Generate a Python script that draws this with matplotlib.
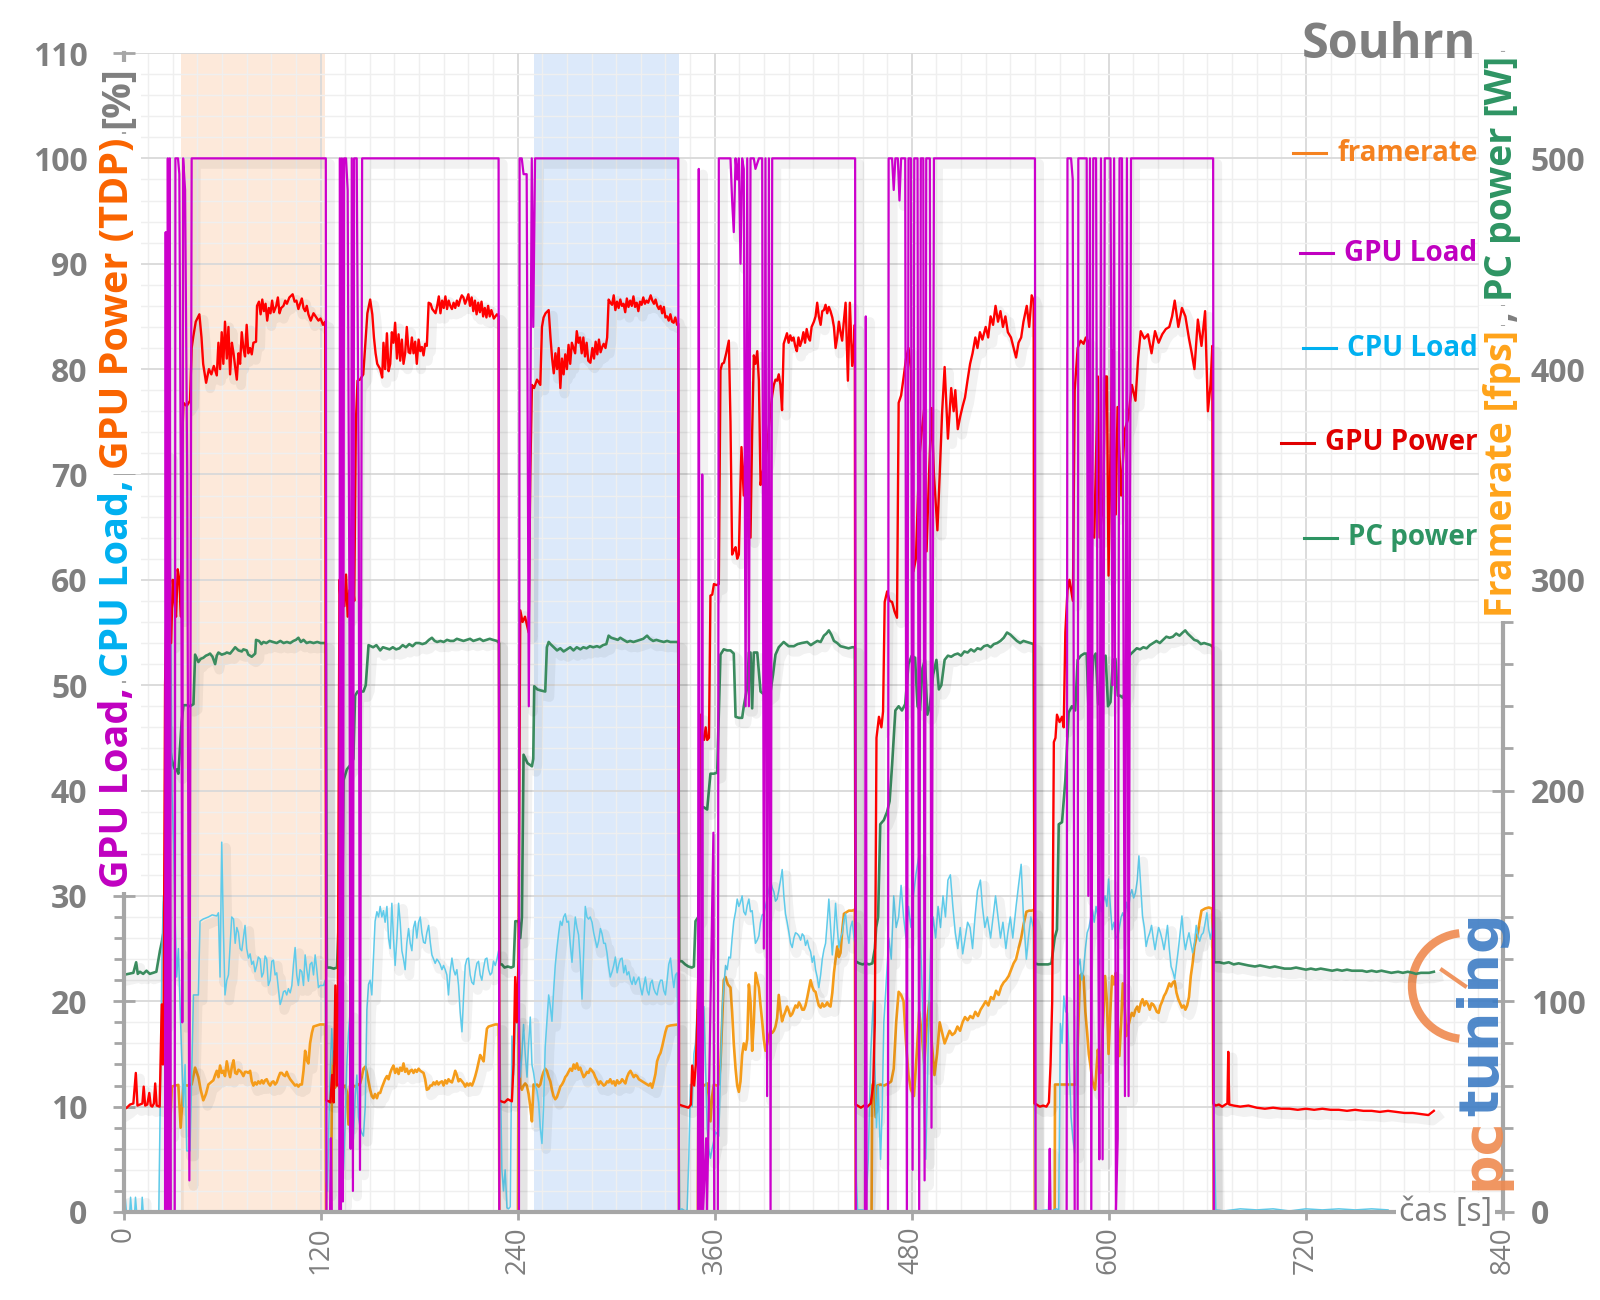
import matplotlib
matplotlib.use('Agg')
import matplotlib.pyplot as plt
import matplotlib.patheffects as pe
from matplotlib.ticker import MultipleLocator
from matplotlib.lines import Line2D
from matplotlib.patches import Arc

plt.rcParams['font.family'] = ['Open Sans', 'DejaVu Sans']

# ---- data (time in s) ----
# GPU Power [% TDP]
gpu_power_pts = [
    (0, 9.7), (2, 9.9), (4, 10.2), (6, 10.3), (7.5, 13.2), (8.5, 10.1), (10, 10.2), (11.5, 10.3), (12.3, 11.9),
    (13.2, 10.1), (14.5, 10.2), (15.7, 11.3), (16.6, 10.1), (17.5, 10.0), (18.5, 10.3), (19.3, 12.2), (20.2, 10.1),
    (22, 10.0), (23.3, 19.7), (24, 14), (24.5, 20), (25.3, 50), (26, 56), (27, 59.5), (28, 57), (29, 54), (30, 60),
    (31, 58), (32, 56.5), (33, 61), (34, 60), (35, 56.5), (35.5, 72), (36.5, 76.8), (38.5, 76.5), (40.5, 77),
    (41.5, 82), (42.5, 83.1), (44, 84.5), (46.2, 85.2), (47.5, 83), (48.5, 80.5), (50.3, 78.7), (52, 80),
    (53.5, 79.5), (55, 80.3), (56.8, 79.4), (57.8, 82.5), (58.8, 80), (59.8, 83.5), (60.8, 80.5), (61.8, 84.5),
    (62.9, 81), (63.9, 84), (64.9, 79.5), (66, 82.5), (67, 81.5), (68, 80.2), (69, 79), (70, 81.5), (71, 80.5),
    (72, 83.5), (73, 82), (74, 81.2), (75, 84.2), (76, 81.5), (77.1, 82), (78.1, 81.4), (79.1, 82.5), (80.7, 82.6),
    (81.3, 86), (82.5, 86.4), (83.5, 85.2), (84.5, 86.6), (85.5, 85.5), (86.5, 86.2), (87.5, 84.6), (88.5, 85.8),
    (89.5, 85.3), (90.5, 86.5), (91.5, 85.4), (93, 86), (94, 86.8), (95, 85.3), (96, 85.8), (97.4, 86), (98.5, 86.5),
    (99.5, 86.2), (101, 86.8), (103, 87.1), (104.2, 86.4), (105.3, 86.5), (106.5, 85.7), (107.5, 86.2),
    (108.6, 86.7), (109.6, 85.8), (110.6, 85.5), (111.6, 86), (112.6, 85.2), (114, 84.6), (115.7, 85.3), (117, 85),
    (118.7, 84.6), (120, 84.8), (121.5, 84.2), (122.8, 84.5), (123.4, 10.6), (125, 10.5), (126, 10.4), (127, 13),
    (128, 10.4), (129, 21.5), (130, 12), (130.5, 19.4), (131.5, 60), (132.5, 56.8), (133.5, 59), (134.5, 57.5),
    (135.5, 60.5), (136.5, 56.5), (137.5, 59), (138.5, 57), (139.5, 60), (140.5, 58), (141.5, 75), (142.5, 78.9),
    (144, 79), (146, 79.5), (147.5, 83), (148.5, 85.3), (150.2, 86.6), (151.5, 85.2), (152.5, 83), (153.5, 81.5),
    (154.5, 80.5), (156.3, 80), (157.5, 79.2), (158.3, 82.5), (159.3, 80), (160.4, 83.4), (161.4, 79.8),
    (162.4, 80.5), (163.4, 83.5), (164.4, 82.5), (165.4, 84.4), (166.5, 81), (167.5, 83.3), (168.5, 80.8),
    (169.5, 82.8), (170.5, 80.5), (171.5, 81.5), (172.5, 84), (173.6, 81.6), (174.6, 81.5), (175.6, 83),
    (176.6, 81.5), (177.6, 82.6), (178.6, 80.5), (179.7, 82.8), (180.7, 81.7), (181.7, 82.1), (182.7, 81.3),
    (183.7, 82.4), (184.7, 82.2), (185.8, 86.3), (187, 86.2), (188, 85.7), (189, 85.5), (190, 85.3), (191, 86),
    (192, 86.9), (193, 85.3), (194, 86.5), (195, 85.8), (196, 86.9), (197, 85.7), (198, 86.5), (199, 86),
    (200, 85.7), (201, 86.3), (202, 85.8), (203, 86.5), (204, 86), (205, 86.6), (206, 87), (207, 86.8), (208, 86.2),
    (209, 86.6), (210, 87.1), (211, 86), (212, 86.8), (213, 85.5), (214, 86.5), (215, 85.2), (216, 86.3),
    (217, 85.4), (218, 86.4), (219, 85), (220, 85.8), (221, 84.9), (222, 86), (223, 85), (224, 85.6), (225.5, 84.8),
    (227.4, 85.2), (228.4, 85), (228.9, 10.6), (230, 10.5), (232, 10.4), (234, 10.7), (236.5, 10.5), (237.5, 14),
    (238.5, 22.3), (239.5, 18), (240.5, 24), (241.6, 57.1), (243, 56), (244.5, 56.5), (246.7, 55), (247.7, 70),
    (248.7, 78.5), (250, 78.2), (251.8, 79), (253.8, 78.5), (254.8, 84), (255.8, 84.9), (257, 85.3), (258.9, 85.6),
    (260, 83), (261, 81), (262, 79.6), (263, 81.5), (264, 80), (265, 82), (266, 78.2), (267, 81), (268, 79.5),
    (269, 81.4), (270, 80), (271, 82.3), (272, 80.5), (273, 82.5), (274, 82), (275, 81.5), (276, 83.6),
    (277, 82.5), (278, 83), (279, 81.5), (280, 83), (281, 81.2), (282, 82.5), (283, 80.8), (284.3, 80.6),
    (285.5, 82), (286.5, 81), (287.5, 82.6), (288.5, 81.4), (289.5, 82.8), (290.5, 81.6), (291.5, 82.1),
    (292.4, 82.4), (293.5, 82), (294.5, 83), (295.4, 86.6), (296.5, 86.3), (297.5, 86.1), (298.5, 87),
    (299.5, 85.6), (300.5, 86.4), (301.5, 85.8), (302.5, 86.6), (303.5, 86), (304.5, 86.2), (305.5, 85.4),
    (306.5, 86.7), (307.5, 85.9), (308.5, 86.5), (309.5, 86), (310.5, 86.9), (311.5, 85.9), (312.5, 86.3),
    (313.5, 85.5), (314.5, 86.4), (315.5, 86.1), (316.5, 86.8), (317.5, 86.2), (318.5, 86.5), (319.5, 86.3),
    (321, 87), (322, 86.5), (323, 86.2), (324, 86.6), (325, 86), (326, 85.7), (327, 86), (328, 85.3), (329, 85.9),
    (330, 84.9), (331, 85), (332, 84.6), (333, 85.2), (334, 84.5), (335, 84.4), (336, 84.9), (337.1, 84.2),
    (337.8, 84.3), (338.3, 10.2), (340, 10.1), (342, 10), (344, 9.9), (345.5, 10.2), (346.3, 13.9), (347.5, 12),
    (348.5, 14), (349.3, 17.8), (350.3, 25), (351.3, 47.2), (352.5, 45), (353.5, 44.8), (354.5, 46), (355.4, 44.8),
    (356.5, 45), (357.4, 58.5), (358.5, 58.6), (359.5, 59.6), (361, 59.5), (362.5, 59.6), (363.5, 79.9),
    (364.5, 80.5), (365.6, 80.6), (367, 81.5), (368.6, 82.7), (369.6, 75), (370.6, 62.4), (371.6, 62.8),
    (372.7, 63.1), (373.7, 62), (374.7, 62.4), (375.5, 68), (376.3, 72.6), (377.7, 68), (378.8, 73), (379.8, 78.9),
    (380.8, 72), (381.8, 64), (382.8, 74), (383.8, 81.3), (384.8, 80.5), (385.9, 81.7), (386.9, 78.9), (387.9, 69),
    (388.9, 70), (389.9, 70.8), (391, 71.5), (392, 72.9), (393, 74.5), (394, 76.1), (395, 77.5), (396, 78.5),
    (397, 79), (398, 78.9), (399, 79.5), (400, 78.5), (401, 76.1), (402, 82.4), (403, 82.9), (404, 83.4),
    (405, 82.5), (406, 83.2), (407, 82.7), (408, 83), (409, 82.2), (410, 81.7), (411, 83), (412, 82.2), (413, 82.7),
    (414, 83.5), (415, 82.5), (416, 83.8), (417, 83), (418, 82.7), (419, 84), (420.4, 84.5), (421.4, 85),
    (422.4, 86.3), (423.4, 85), (424.5, 84.2), (425.5, 85.5), (426.5, 85.6), (427.5, 86.1), (428.5, 85.3),
    (429.5, 85.9), (430.5, 85.5), (431.6, 84.9), (432.6, 84), (433.6, 82), (434.6, 83), (435.6, 84.5),
    (436.6, 83.5), (437.6, 82.7), (438.6, 84.5), (439.7, 86.3), (441.1, 78.9), (442.3, 86.3), (443.7, 80.3),
    (444.8, 82.5), (445.3, 84.2), (445.8, 10.2), (447, 10.1), (449, 9.9), (451, 10.1), (453, 10), (455, 10.3),
    (456.5, 12), (457.5, 18), (458.5, 45), (460, 47), (461.5, 46), (462.5, 47.5), (463.5, 57.9), (465, 58.9),
    (466.5, 58), (468, 57.9), (469.5, 57), (471, 56.4), (472, 76.8), (473.5, 77.5), (475, 79.2), (476.5, 81),
    (478, 82), (479.5, 80), (481, 60.8), (482.5, 62), (484.5, 71.4), (486, 74), (487.6, 76.3), (489, 62.7),
    (490.5, 70), (492, 76.3), (493.5, 70), (495.6, 64.7), (497, 70), (498.5, 76), (500, 80.2), (502, 73.4),
    (504, 78.2), (505.5, 76), (506.5, 78), (508, 74.3), (509.5, 75.5), (511, 76.5), (512.4, 77.3), (514, 79),
    (515.5, 80.5), (517, 81.5), (518.7, 83), (520, 82), (521.5, 83.5), (523, 82.8), (525, 84), (526.5, 83),
    (528, 85), (529.5, 84.2), (531, 86), (532.5, 84.5), (534, 85.5), (535.5, 84), (537, 85), (538.5, 83.5),
    (540.4, 83), (542, 82), (543.5, 81.1), (545, 82.5), (546.6, 83), (548, 84.5), (550, 86), (551.5, 84), (553, 87),
    (554.2, 86.5), (554.7, 10.3), (556, 10.2), (558, 10), (560, 10.1), (562, 10), (563.5, 10.4), (564.5, 14),
    (565.5, 20), (566.5, 44.6), (567.5, 45), (568.4, 47.2), (570, 46.5), (571.5, 47), (572.5, 46), (573.5, 55),
    (574.8, 59), (576, 60), (578.1, 58), (579.2, 78), (581, 82), (582.8, 82.7), (584.6, 82.4), (586, 83),
    (587.9, 82.5), (589, 64.4), (591.1, 64), (593.3, 79.3), (594.4, 64), (596.6, 67.6), (597.7, 79.3),
    (598.8, 79.3), (599.8, 60.4), (602, 81.8), (604.2, 66.2), (605.3, 76.4), (607.5, 68), (609.6, 74.2),
    (611.8, 75.3), (614, 78.5), (616.2, 77), (617.8, 81), (619.4, 83.6), (621.6, 82.9), (623.8, 83.3), (626, 81.5),
    (628.1, 83.6), (630.3, 82.5), (632.5, 83.3), (634.7, 83.8), (636.8, 84), (638.5, 85), (640.1, 86.5),
    (642.3, 84), (644.5, 85.8), (646.6, 85), (648.8, 82.9), (650.5, 81.5), (652.1, 80), (654.2, 84.7),
    (656.4, 82.2), (658.6, 85.5), (660.3, 76), (661.9, 78.5), (663, 82.2), (663.6, 10.3), (665, 10.1), (667, 10.2),
    (669, 10), (671, 10.2), (672.2, 10.3), (672.7, 15.2), (673.3, 10.2), (676, 10.1), (680, 10.0), (685, 10.1),
    (690, 9.9), (695, 9.8), (700, 9.9), (705, 9.8), (710, 9.8), (715, 9.7), (720, 9.8), (725, 9.7), (730, 9.8),
    (735, 9.7), (740, 9.7), (745, 9.6), (750, 9.7), (755, 9.6), (760, 9.6), (765, 9.5), (770, 9.6), (775, 9.5),
    (780, 9.4), (785, 9.4), (790, 9.3), (794.6, 9.2), (797.9, 9.6),
]

# GPU Load [%]
gpu_load_pts = [
    (0, 0), (25.3, 0), (25.7, 93), (26.1, 0), (26.7, 0), (27.0, 100), (27.8, 0), (28.2, 100), (28.8, 0), (31.2, 0),
    (31.6, 100), (33.2, 100), (34.0, 98.5), (35.2, 60), (35.8, 18), (36.3, 100), (37.5, 97), (38.8, 70), (40.1, 3),
    (41.5, 100), (123.2, 100), (123.6, 0), (125.8, 0), (126.3, 7), (126.8, 0), (131.4, 0), (131.8, 100), (132.4, 0),
    (133.0, 100), (133.6, 1), (134.3, 100), (135.5, 100), (136.5, 97), (137.5, 60), (138.3, 6), (139.0, 100),
    (139.7, 2), (140.4, 100), (142.0, 100), (143.2, 70), (144.0, 4), (145.3, 100), (228.4, 100), (228.8, 0),
    (240.8, 0), (241.2, 100), (242.5, 100), (243.6, 98.5), (245.5, 98.5), (246.8, 48), (248.6, 100), (249.5, 84),
    (250.6, 100), (337.8, 100), (338.2, 0), (349.8, 0), (350.3, 99), (350.9, 0), (352.0, 0), (352.4, 70),
    (352.9, 0), (354.8, 7), (355.3, 0), (359.2, 36), (359.7, 0), (361.9, 0), (362.5, 100), (369.6, 100),
    (370.6, 96), (371.6, 93), (372.7, 100), (373.7, 98), (374.7, 100), (375.7, 90), (376.7, 100), (377.7, 99),
    (378.8, 48), (379.8, 100), (380.8, 48), (381.8, 100), (383.8, 100), (384.8, 99), (386.9, 100), (388.9, 100),
    (389.9, 25), (390.9, 100), (391.9, 11), (393.0, 100), (394.0, 0), (395.0, 100), (445.5, 100), (445.9, 0),
    (451.5, 0), (452.0, 85), (452.5, 0), (465.5, 0), (465.9, 100), (468, 100), (469, 97), (470, 100),
    (471.5, 100), (472.5, 96), (473.5, 100), (476, 100), (477, 0), (478, 100), (479.5, 100), (480.5, 4),
    (481.5, 100), (483.5, 100), (484.5, 0), (485.5, 100), (487, 100), (487.8, 3), (488.8, 100), (491, 100),
    (492, 8), (493.5, 100), (555.0, 100), (555.4, 0), (563.5, 0), (564.0, 6), (564.5, 0), (574.3, 0),
    (574.8, 100), (577.0, 100), (578.0, 98), (579.2, 0), (581.0, 0), (581.4, 100), (586.5, 100), (587.5, 30),
    (588.5, 100), (589.3, 0), (590.5, 100), (592.2, 100), (593.5, 30), (594.2, 5), (595.2, 100), (596.2, 5),
    (597.5, 100), (601, 100), (602.2, 50), (603.2, 100), (604.3, 0), (605.4, 7), (606.5, 100), (608.0, 100),
    (609.8, 11), (611.0, 100), (612.0, 11), (613.5, 100), (663.5, 100), (663.9, 0), (798, 0),
]

# CPU Load [%]
cpu_load_pts = [
    (0, 0), (1, 1.4), (1.8, 0), (3.8, 0), (4.3, 1.4), (5, 0), (6.8, 0), (7.3, 1.4), (8, 0), (11, 0), (11.4, 1.4),
    (12, 0), (21.5, 0), (22.5, 12), (23.5, 25), (24.3, 30), (25, 18), (26, 45), (27.5, 72), (28.5, 64),
    (29.5, 40), (30.5, 35), (31.4, 28), (32.4, 22.3), (33.4, 25), (34.4, 20), (35.4, 15), (36.5, 10), (37.5, 14),
    (38.5, 5.8), (40.5, 5.8), (41.5, 13), (42.6, 20.6), (45.6, 20.6), (46.6, 27.6), (48.5, 27.8), (51.7, 28),
    (54, 28.2), (56.8, 28.1), (57.8, 28.4), (58.8, 22.3), (59.8, 35.1), (60.8, 27), (61.8, 20.6), (62.9, 22),
    (63.9, 22.5), (65.9, 28), (67, 27.8), (68, 25.5), (69, 27), (70, 26.5), (71, 25), (72, 24.8), (73, 26),
    (74, 27.2), (75, 25), (76.1, 24.1), (77.1, 24.5), (78.1, 23.5), (79.1, 23.8), (80.1, 22.8), (81.1, 23.4),
    (82.1, 24.2), (83.2, 24), (84.2, 22.3), (85.2, 22.7), (86.2, 24.3), (87.2, 24), (88.2, 21.5), (89.3, 22),
    (90.3, 23.8), (91.3, 23.9), (92.3, 22.5), (93.3, 22.7), (94.3, 21.2), (95.4, 19.7), (96.4, 20.2),
    (97.4, 20.9), (98.4, 21), (99.4, 20.6), (100.4, 21.2), (101.5, 20.8), (102.5, 21.5), (103.5, 23.5),
    (104.5, 25.1), (105.5, 22.5), (106.5, 21.5), (107.5, 23), (108.6, 22.8), (109.6, 21.5), (110.6, 24.4),
    (111.6, 23), (112.6, 21.9), (113.6, 23.5), (114.7, 23.7), (115.7, 22.5), (116.7, 24.4), (117.7, 23),
    (118.7, 21.3), (119.7, 21.5), (121.8, 21.5), (122.8, 22), (123.4, 3), (124.2, 2), (125, 8), (125.8, 13),
    (126.8, 17.4), (127.8, 14), (128.9, 15.6), (129.9, 12), (131, 22), (132, 17.4), (133, 10), (134, 4),
    (135, 8.6), (136, 14), (137, 17), (138, 19), (139, 9), (140, 6.9), (141.1, 11), (142.1, 13), (143.1, 9),
    (144.1, 8), (145.1, 7.5), (146.1, 7.2), (147.2, 10), (148.2, 19.2), (149.2, 21.6), (150.2, 22), (151.2, 20.6),
    (152.2, 24), (153.2, 27.6), (154.3, 28.5), (155.3, 28), (156.3, 29), (157.3, 28), (158.3, 28.6), (159.3, 27.5),
    (160.4, 29), (161.4, 26), (162.4, 25), (163.4, 29.3), (164.4, 26), (165.4, 23.4), (166.5, 26), (167.5, 29.3),
    (168.5, 27.5), (169.5, 24.8), (170.5, 24), (171.5, 23), (172.5, 25.5), (173.6, 26.9), (174.6, 25.5),
    (175.6, 24.8), (176.6, 27), (177.6, 27.6), (178.6, 26), (179.7, 27.5), (180.7, 28), (181.7, 26.5),
    (182.7, 25.6), (183.7, 25.5), (184.7, 26.5), (185.8, 27.2), (186.8, 25.6), (187.8, 24.4), (188.8, 24),
    (189.8, 23.6), (190.8, 24), (191.8, 23.8), (192.8, 23.5), (193.9, 23), (194.9, 23.4), (195.9, 23),
    (196.9, 22.5), (197.9, 20.6), (198.9, 22.8), (200, 24.1), (201, 23), (202, 22.5), (203, 23), (204, 21.5),
    (205, 19), (206.1, 17.1), (207.1, 20.5), (208.1, 23.4), (209.1, 24), (210.1, 24.1), (211.1, 22.5),
    (212.1, 21.8), (213.2, 21.6), (214.2, 22.8), (215.2, 23.6), (216.2, 23.8), (217.2, 22.5), (218.2, 22),
    (219.3, 23.2), (220.3, 24), (221.3, 24.1), (222.3, 23), (223.3, 22.5), (224.3, 22.7), (225.3, 23.8),
    (226.4, 23.4), (227.4, 24), (228.4, 24.8), (229.4, 14), (230.4, 4), (231.4, 2), (232.4, 4), (233.5, 0.4),
    (234.5, 0.3), (235.5, 0.5), (236.5, 16.7), (237.5, 13), (238.5, 18), (239.6, 19.9), (240.6, 17),
    (241.6, 12.8), (242.6, 15), (243.6, 17.8), (244.6, 15), (245.7, 12.8), (246.7, 16), (247.7, 18.5),
    (248.7, 14), (249.7, 13.2), (250.8, 12), (251.8, 11.5), (252.8, 10.4), (253.8, 8), (254.8, 6.5), (255.8, 10),
    (256.8, 15.7), (257.8, 18), (258.9, 20.6), (259.9, 19.5), (260.9, 18.1), (261.9, 21), (262.9, 23.4),
    (263.9, 25), (265, 26.5), (266, 27.6), (267, 27.2), (268, 28), (269, 28.3), (270, 27.5), (271, 27.6),
    (272, 25.5), (273.1, 23.7), (274.1, 26), (275.1, 28), (276.1, 27), (277.1, 26.3), (278.1, 24), (279.2, 20.2),
    (280.2, 24.5), (281.2, 29), (282.2, 28), (283.2, 27.8), (284.2, 28), (285.3, 27.5), (286.3, 26.5),
    (287.3, 25.8), (288.3, 25.1), (289.3, 25.7), (290.4, 26.9), (291.4, 26.4), (292.4, 25.5), (293.4, 25.5),
    (294.4, 24.6), (295.4, 23.3), (296.4, 22.3), (297.5, 22.8), (298.5, 23.4), (299.5, 24.2), (300.6, 22.7),
    (301.6, 23.5), (302.6, 24), (303.6, 24.1), (304.6, 22.7), (305.6, 23.4), (306.6, 22.5), (307.7, 22.8),
    (308.7, 22), (309.7, 21.6), (310.7, 22.3), (311.7, 21.6), (312.8, 22), (313.8, 22.3), (314.8, 21.3),
    (315.8, 20.6), (316.8, 21.5), (317.8, 22.3), (318.9, 21), (319.9, 20.6), (320.9, 21.7), (321.9, 22),
    (322.9, 21.2), (323.9, 20.8), (324.9, 20.6), (326, 21.5), (327, 22), (328, 22), (329, 21), (330, 20.6),
    (331, 22), (332, 23.5), (333.1, 24.1), (334.1, 22.5), (335.1, 21.3), (336.1, 22.5), (337.1, 22.7),
    (338.2, 10), (338.7, 0.2), (340, 0.3), (342, 0.1), (343.2, 0.2), (344.2, 5), (345.2, 12.1), (346.3, 10),
    (347.3, 15), (348.3, 16), (349.3, 19.2), (350.3, 17), (351.3, 18.5), (352.3, 16), (353.4, 19.5), (354.4, 14),
    (355.4, 8), (356.4, 6), (357.4, 5.1), (358.4, 6), (359.5, 6.8), (360.5, 7.6), (361.5, 7.4), (362.5, 7.2),
    (363.5, 13), (364.5, 19.2), (365.6, 21.5), (366.6, 23.4), (367.6, 23), (368.6, 24.2), (369.6, 24.1),
    (370.6, 26), (371.6, 27.6), (372.7, 28.5), (373.7, 29.7), (374.7, 29), (375.7, 29.4), (376.7, 30),
    (377.7, 28.5), (378.8, 28.2), (379.8, 29.1), (380.8, 29.7), (381.8, 28.5), (382.8, 28.6), (383.8, 27),
    (384.8, 25.5), (385.9, 25.8), (386.9, 26.2), (387.9, 27.5), (388.9, 28.2), (389.9, 28.3), (390.9, 29),
    (391.9, 29.7), (392.9, 30.5), (394, 31.4), (395, 30.8), (396, 30.4), (397, 29.5), (398, 29.7), (399, 30.5),
    (400.1, 31.5), (401.1, 32.5), (402.1, 30), (403.1, 28.3), (404.1, 27.5), (405.2, 26.5), (406.2, 25.5),
    (407.2, 25.1), (408.2, 26), (409.2, 26.5), (410.3, 26.4), (411.3, 26.2), (412.3, 25.8), (413.3, 26.4),
    (414.3, 26.2), (415.3, 25.3), (416.4, 25.8), (417.4, 25.1), (418.4, 24.7), (419.4, 23.7), (420.4, 24.3),
    (421.4, 23), (422.4, 22.3), (423.4, 21.3), (424.5, 22.5), (425.5, 24), (426.5, 24.9), (427.5, 25.5),
    (428.5, 27.5), (429.5, 29.7), (430.6, 27), (431.6, 24.4), (432.6, 26.5), (433.6, 29.3), (434.6, 27),
    (435.6, 25.1), (436.6, 26), (437.7, 26.5), (438.7, 27.7), (439.7, 28.3), (440.7, 26.5), (441.7, 25.5),
    (442.7, 27), (443.8, 27.6), (444.8, 26), (445.8, 25.1), (446.3, 3), (447, 0.2), (450, 0.2), (452, 0.1),
    (453.5, 5), (455, 15), (456.5, 20), (457.5, 14), (458.5, 8), (459.5, 12), (461, 5), (462, 10), (463, 18),
    (464.5, 22), (466, 26), (467.5, 24), (469, 30), (470.5, 27), (472, 28), (473.5, 31), (475, 28), (476.5, 26),
    (478, 29), (479.5, 27), (481, 30), (482.5, 32), (484.5, 34), (485.5, 25), (486.5, 20), (487.6, 9),
    (488.5, 5), (489.5, 12), (490.5, 20), (491.5, 25), (493, 28), (494.5, 26), (496, 29), (497.5, 27), (499, 30),
    (500.5, 28), (502, 31.5), (503.5, 32), (505, 29), (506.5, 26.5), (508, 25), (509.5, 27), (511, 24.5),
    (512.5, 26), (514, 27.5), (515.5, 27), (517, 25), (518.5, 28), (520, 30.5), (521.8, 31.5), (523, 29),
    (524.5, 27), (526, 28), (528, 26), (529.5, 28), (531, 30), (532.5, 28), (534, 26), (535.5, 27.5),
    (537.3, 25), (538.5, 26.5), (540, 28), (541.5, 26), (543.5, 29), (545, 31), (546.6, 33), (548, 28),
    (549.8, 24), (551, 26), (552.5, 28), (554, 27), (554.8, 10), (555.3, 0.2), (558, 0.1), (562, 0.2),
    (565, 0.1), (568, 0.3), (569.5, 0.2), (570.5, 17.9), (571.5, 16), (572.6, 20.5), (573.7, 19), (574.8, 18.9),
    (575.9, 14), (577, 9), (578.1, 7), (579.2, 5.6), (580.2, 12), (581.3, 23.3), (582.4, 24), (583.5, 22),
    (584.6, 23), (585.7, 25), (586.8, 26.5), (587.9, 27), (589, 28), (590, 28.7), (591.1, 27.5), (592.2, 29),
    (593.3, 28.1), (594.4, 29.5), (595.5, 28.5), (596.6, 29.4), (597.7, 30), (598.8, 29), (599.8, 31.6),
    (600.9, 29), (602, 26.8), (603.1, 27.5), (604.2, 26.2), (605.3, 25.9), (606.4, 27), (607.5, 28),
    (608.5, 28.4), (609.6, 27.6), (610.7, 29.4), (611.8, 28.5), (612.9, 30), (614, 30.6), (615.1, 29.8),
    (616.2, 30.3), (617.3, 31.5), (618.3, 33.8), (619.4, 31), (620.5, 28.1), (621.6, 27), (622.7, 25.2),
    (623.8, 26), (624.9, 26.5), (626, 27.2), (627, 26), (628.1, 24.9), (629.2, 26), (630.3, 27), (631.4, 26.5),
    (632.5, 25.8), (633.6, 24.9), (634.7, 26), (635.7, 27.2), (636.8, 25), (637.9, 23.3), (639, 22.8),
    (640.1, 22.1), (641.2, 23.5), (642.3, 24.9), (643.4, 26.5), (644.5, 28.1), (645.6, 26), (646.6, 24.9),
    (647.7, 25.8), (648.8, 26.5), (649.9, 25.5), (651, 24.6), (652.1, 25.5), (653.2, 27.2), (654.2, 26.2),
    (655.3, 25.7), (656.4, 26.3), (657.5, 26.5), (658.6, 27.4), (659.7, 28.4), (660.8, 26.8), (661.9, 25.9),
    (663, 27), (663.4, 28), (664.2, 8), (665.1, 0.2), (670, 0.1), (680, 0.3), (690, 0.2), (700, 0.3),
    (710, 0.1), (720, 0.3), (730, 0.2), (740, 0.3), (750, 0.2), (760, 0.3), (770, 0.2),
]

# framerate [fps]
fps_pts = [
    (0, 0), (26.0, 0), (26.3, 60.5), (27.3, 59), (28.3, 38), (29.4, 59.5), (31.4, 60), (33.4, 60.3), (34.8, 40),
    (36.5, 60.2), (39, 60), (41.5, 60.5), (43.6, 68.5), (45.6, 64), (47, 58), (48.6, 53), (50.2, 56),
    (51.7, 60.5), (53.2, 61.5), (54.7, 62.5), (55.8, 65), (56.8, 67), (57.8, 64), (58.8, 69.5), (59.8, 66),
    (60.8, 67), (61.8, 64.5), (62.9, 71.5), (63.9, 67), (64.9, 64), (66, 69), (67, 72), (68, 66), (69, 65.5),
    (70, 67.5), (71, 67), (72, 66), (73, 64.5), (74, 66.5), (75, 66.5), (76, 66), (77.1, 67), (78.1, 62),
    (79.1, 60), (80.1, 61.5), (81.1, 60.5), (82.1, 62), (83.2, 61), (84.2, 62.5), (85.2, 61), (86.2, 62.5),
    (87.2, 63), (88.3, 61), (89.3, 60), (90.3, 61.5), (91.3, 62), (92.3, 60.5), (93.3, 61.5), (94.4, 64),
    (95.4, 66), (96.4, 66), (97.4, 65), (98.4, 64.5), (99.4, 66.5), (100.4, 64.5), (101.5, 63), (102.5, 62),
    (103.5, 61), (104.5, 60), (105.5, 60.5), (106.5, 59.5), (107.5, 60.5), (108.6, 60.5), (109.6, 67),
    (110.6, 76.5), (111.6, 72), (112.6, 70.5), (113.6, 80), (114.7, 85), (115.7, 88), (117.7, 88.5),
    (119.7, 89), (122.8, 89), (123.3, 0), (126.4, 0), (126.9, 60), (127.8, 76), (128.8, 59), (129.8, 61),
    (131, 60), (132, 58), (133, 60), (134, 59.5), (135, 60), (136, 57), (137, 41.5), (138, 60), (139, 60.5),
    (140, 60), (141.1, 59.5), (142.1, 60), (143.1, 60.5), (144.1, 61), (145.1, 64), (146.1, 68), (147.2, 69),
    (148.2, 66), (149.2, 62), (150.2, 58), (151.2, 55), (152.2, 54), (153.2, 56), (154.3, 54), (155.3, 56.5),
    (156.3, 56.5), (157.3, 59), (158.3, 61), (159.3, 63), (160.4, 64.5), (161.4, 63), (162.4, 66), (163.4, 68),
    (164.4, 69.5), (165.4, 66), (166.5, 68), (167.5, 65.5), (168.5, 68.5), (169.5, 67), (170.5, 70.5),
    (171.5, 66.5), (172.5, 68), (173.6, 65.5), (174.6, 67), (175.6, 67.5), (176.6, 66), (177.6, 67.5),
    (178.6, 66.5), (179.7, 68), (180.7, 67), (181.7, 66.5), (182.7, 66), (183.7, 63), (184.7, 58), (185.8, 58.5),
    (186.8, 60), (187.8, 60), (188.8, 61.5), (189.8, 60.5), (190.8, 62), (191.8, 60.5), (192.8, 61.5),
    (193.9, 62), (194.9, 60), (195.9, 62.5), (196.9, 61), (197.9, 63), (198.9, 62), (200, 61.5), (201, 64),
    (202, 67), (203, 65), (204, 62), (205, 63), (206.1, 62), (207.1, 61), (208.1, 59.5), (209.1, 61), (210.1, 60),
    (211.1, 61), (212.2, 60), (213.2, 62), (214.2, 64.5), (215.2, 67.5), (216.2, 71), (217.2, 74.5), (218.2, 73),
    (219.3, 71.5), (220.3, 80), (221.3, 87), (222.3, 88), (224.4, 88.5), (226.4, 89), (228.4, 89), (228.9, 0),
    (240.2, 0), (240.6, 92.5), (241.6, 60), (242.6, 58), (243.6, 60), (244.6, 61), (245.6, 60), (246.7, 56),
    (247.7, 50), (248.7, 43), (249.7, 60.5), (250.8, 60), (251.8, 60.5), (252.8, 59.5), (253.8, 60.5),
    (254.8, 64), (255.8, 66.5), (256.8, 68), (257.8, 67), (258.9, 64), (259.9, 62), (260.9, 58), (261.9, 55),
    (262.9, 53.5), (263.9, 54.5), (265, 57), (266, 59.5), (267, 60.5), (268, 62), (269, 64), (270, 65),
    (271, 66.5), (272, 68), (273.1, 67), (274.1, 70), (275.1, 68), (276.1, 70.5), (277.1, 67.5), (278.1, 68.5),
    (279.2, 66), (280.2, 64), (281.2, 65), (282.2, 66.5), (283.2, 66), (284.2, 68), (285.3, 67), (286.3, 66),
    (287.3, 64), (288.3, 62.5), (289.3, 60.5), (290.4, 62), (291.4, 61), (292.4, 60), (293.4, 60.5), (294.4, 62),
    (295.4, 61.5), (296.4, 63), (297.5, 61), (298.5, 62), (299.5, 60), (300.6, 62.5), (301.6, 61), (302.6, 61.5),
    (303.6, 63), (304.6, 62), (305.6, 61), (306.6, 64), (307.7, 66), (308.7, 67), (309.7, 65.5), (310.7, 64),
    (311.7, 65), (312.7, 64.5), (313.8, 63), (314.8, 62.5), (315.8, 62), (316.8, 61.5), (317.8, 61),
    (318.9, 60.5), (319.9, 60), (320.9, 61), (321.9, 59), (322.9, 62), (323.9, 65.5), (324.9, 71.5), (326, 74),
    (327, 75.5), (328, 78.5), (329, 82), (330, 85.5), (331, 88), (333, 88.5), (336.1, 88.8), (337.8, 89),
    (338.2, 0), (349.7, 0), (350.1, 60), (351.5, 60.5), (353.5, 60), (355.4, 61), (356.4, 55), (357.4, 43),
    (358.4, 55), (359.5, 60.5), (361, 60), (362.5, 60.5), (363.5, 70), (364.5, 90), (365.5, 110), (366.6, 111.5),
    (368, 108), (369.6, 106.5), (370.6, 95), (371.6, 80), (372.7, 68), (373.7, 60), (374.7, 57), (375.7, 62),
    (376.7, 74.5), (377.7, 80), (378.8, 77), (379.8, 82), (380.8, 108), (381.8, 100), (382.8, 76.5), (383.8, 90),
    (384.9, 113.5), (385.9, 110), (386.9, 106.5), (387.9, 98), (388.9, 90.5), (389.9, 82), (390.9, 76.5),
    (392, 80), (393, 83.5), (394, 86), (395, 85), (396, 86), (397, 88), (398, 92), (399, 103), (400, 96),
    (401, 90.5), (402, 93), (403, 95), (404.1, 97.5), (405.1, 95.5), (406.1, 93), (407.2, 94), (408.2, 96),
    (409.2, 98), (410.3, 97), (411.3, 99.5), (412.3, 98), (413.3, 96), (414.3, 96), (415.3, 98), (416.4, 102),
    (417.4, 106), (418.4, 110), (419.4, 107), (420.4, 105), (421.4, 104.5), (422.4, 101), (423.4, 98),
    (424.5, 97), (425.5, 99), (426.5, 97.5), (427.5, 98), (428.5, 99.5), (429.5, 98), (430.5, 97.5),
    (431.6, 104), (432.6, 113.5), (433.6, 120), (434.6, 126), (435.6, 121), (436.6, 123), (437.7, 134),
    (438.7, 141.5), (439.7, 142), (441.7, 143), (443.7, 143), (445.3, 143.5), (445.8, 0), (455.5, 0),
    (455.9, 60), (457, 62), (458, 45), (459, 60), (461, 60.5), (463, 60), (465.8, 61), (467.5, 62), (469, 68),
    (470.5, 90), (472, 104.5), (473.5, 103), (475, 100), (476.5, 80), (478, 65), (479.5, 58), (481.3, 55),
    (483, 75), (484.5, 95), (486, 85), (487.6, 70), (489, 88), (490.7, 100), (492.2, 80), (493.8, 65),
    (495.4, 75), (497, 90), (498.5, 85), (500, 80), (501.5, 83), (503, 86), (504.6, 84), (506.2, 85),
    (507.8, 88), (509.4, 86), (510.9, 90), (512.4, 92.5), (514, 91), (515.6, 93), (517.2, 92), (518.7, 95),
    (520.3, 93), (521.9, 96), (523.5, 98), (525, 100), (526.6, 98), (528.2, 102), (529.8, 101), (531.3, 105),
    (532.9, 103), (534.5, 107), (536, 109), (537.3, 110), (539, 112), (540.5, 115), (542, 118), (543.5, 120),
    (545, 125), (546.6, 130), (548.2, 137), (549.8, 142.5), (551.5, 143), (553, 143), (554.5, 143.5),
    (554.9, 0), (567.0, 0), (567.2, 60.5), (570, 60.5), (573, 60.5), (576, 60.5), (578, 60.5), (580.3, 60.5),
    (581.5, 90), (582.4, 112), (583.5, 113), (584.6, 111.5), (585.7, 95), (586.8, 85), (587.8, 75), (588.9, 69),
    (590, 62), (591.6, 58), (593.3, 77), (594.1, 70), (595, 66), (596.5, 90), (597.7, 112), (598.8, 100),
    (599.8, 75), (600.9, 95), (602, 112), (603.1, 108), (604.2, 113.5), (605.3, 90), (606.4, 74), (607.5, 90),
    (608.5, 108.5), (609.6, 98), (610.7, 83.5), (611.8, 88), (613, 92), (614, 94.5), (615.1, 93), (616.2, 96),
    (617.3, 97.5), (618.3, 95), (619.4, 99), (620.5, 101), (621.6, 98), (622.7, 100), (623.8, 98.5), (624.9, 96),
    (626, 99), (627, 98.5), (628.1, 97), (629.2, 95), (630.3, 94.5), (631.4, 98), (632.5, 100), (633.6, 102.5),
    (634.7, 104), (635.7, 106), (636.8, 108.5), (637.9, 107), (639, 109), (640.1, 109.5), (641.2, 104),
    (642.3, 101), (643.4, 99), (644.5, 97), (645.6, 98), (646.6, 96), (647.7, 98), (648.8, 102), (649.9, 112),
    (651, 118), (652.1, 126), (653.2, 130), (654.2, 132.5), (655.3, 138), (656.4, 143), (658.6, 144),
    (660.8, 144.5), (663, 144), (663.8, 0), (770.7, 0),
]

# PC power [W]
pc_power_pts = [
    (0, 112.5), (3, 113), (6, 113.5), (7.7, 118.5), (8.7, 113), (10, 114), (12, 113), (14, 114.5), (16, 113),
    (18, 113.5), (20, 114), (22.2, 124), (23.3, 128), (24.3, 132.5), (25.3, 160), (26.3, 231), (27.3, 228),
    (28.3, 220.5), (29.3, 215), (30.3, 212), (31.4, 210), (32.4, 210), (33.4, 208), (34.4, 220), (35.4, 232.5),
    (36.5, 240.5), (38.5, 240.5), (40.5, 240), (42.6, 241), (43.6, 264.5), (45.6, 261), (47, 262.5), (48.6, 263),
    (50.2, 264), (51.7, 264.5), (52.7, 265), (54.2, 263.5), (55.8, 260), (56.8, 264), (57.8, 265.5),
    (59.8, 264.5), (61.8, 265), (62.9, 265.5), (64.9, 265), (66.5, 266.5), (68, 268), (70, 266.5), (72, 266),
    (73, 267), (75, 266.5), (76, 264.5), (78.1, 263.5), (80.2, 265), (80.7, 271.5), (82.5, 271), (84, 269.5),
    (85.2, 270.5), (87, 270), (89, 271), (91, 270.5), (93.3, 270), (95.5, 271), (97.5, 270), (99.5, 270.5),
    (101.5, 270), (103.5, 271), (105, 271.5), (106.5, 272.5), (108, 270.5), (109.6, 271.5), (111.5, 270),
    (113.5, 270.5), (115.7, 270), (118, 270.5), (120, 270), (123.2, 270), (123.8, 116), (125.8, 116),
    (128, 115.5), (130, 116), (130.9, 134.5), (132, 125), (133, 130), (134, 205), (136, 210), (138, 212),
    (140, 215), (141, 245), (142.5, 247), (144, 247), (146.1, 247), (147.5, 250), (149.2, 269), (152, 268),
    (154, 269), (156.3, 266.5), (158, 268), (160, 267.5), (162, 267), (164, 268), (166, 267), (168, 267.5),
    (170, 269), (172, 268), (174, 269.5), (176, 268.5), (178, 270), (180, 270), (182, 269.5), (184, 270),
    (186, 271.5), (187.8, 272.5), (189.5, 271), (191, 270.5), (193, 271), (195, 270.5), (197, 271.5), (199, 271),
    (201, 271), (203, 272), (205, 271.5), (207, 271), (209, 271.5), (211, 272), (213, 271), (215, 271.5),
    (217, 272), (219, 271), (221, 271.5), (223, 272), (225, 271.5), (227.4, 271), (228.7, 270), (229.2, 117.5),
    (230.4, 117.5), (232, 116), (234, 116.5), (236, 116), (237.5, 116.5), (238.6, 138), (240.6, 138),
    (241.6, 130), (242.6, 140), (243.6, 217), (246, 213), (248.7, 211.5), (249.5, 215), (250.1, 249.5),
    (252, 248), (254, 247.5), (256.8, 247), (257.8, 268), (258.9, 270.5), (260, 269.5), (262, 268),
    (264, 266.5), (266, 267.5), (268, 266), (270, 267), (272, 268), (274, 266.5), (276, 268), (278.2, 267),
    (280, 268), (282, 267.5), (284, 268.5), (286, 268), (288.3, 268.5), (290, 268), (292, 269), (294, 269.5),
    (295.4, 273.5), (297, 272.5), (299, 272), (301, 271.5), (302.5, 272.5), (304.5, 271.5), (306.7, 270.5),
    (308.5, 271), (310.5, 270.5), (312.5, 271), (314.5, 271.5), (316.5, 272), (318.8, 273.5), (320.5, 272),
    (322.5, 271), (324.5, 271.5), (326.5, 271), (329, 270.5), (331, 271), (333, 270.5), (335, 270.5),
    (337.1, 270.5), (337.8, 270), (338.4, 119), (340, 119), (342, 117.5), (344, 116.5), (346, 116),
    (347.3, 116.5), (348.3, 138), (350, 140), (351.3, 192.5), (353.5, 192), (355.4, 191), (357.4, 208),
    (359.5, 208), (361.5, 208.5), (363.5, 264.5), (365.5, 267), (367.6, 266.5), (369.6, 266.5), (371.6, 265),
    (372.7, 235), (374.7, 234.5), (376.7, 234.5), (377.7, 240), (379.8, 249), (380.8, 265.5), (381.8, 265.5),
    (382.8, 239), (383.8, 265.5), (385.9, 265.5), (387.9, 247), (390.9, 245), (394, 247), (395.5, 255),
    (397, 264.5), (399, 268), (402, 270.5), (405, 268.5), (408.2, 268.5), (410.5, 269.5), (413, 270),
    (416.3, 270.5), (418.5, 269), (420.4, 270), (422.5, 271), (424.5, 270.5), (426.5, 273.5), (428, 274.5),
    (429.5, 276), (431, 274), (432.6, 271), (434.6, 270), (436.6, 268.5), (439, 268), (441.5, 267.5),
    (443.7, 268), (445.3, 268), (445.8, 119), (448, 118), (450, 117.5), (452, 118), (454, 117.5), (456, 118),
    (457.5, 125), (458.3, 135), (459.5, 140), (460.8, 184), (463, 186), (465, 190), (466.5, 195), (468, 212),
    (470, 238), (472, 240), (474, 238), (476, 241), (478, 260), (480, 264), (482, 263), (483.5, 240),
    (485, 238), (486.5, 258), (488, 262), (489.5, 236), (491, 240), (493, 255), (495, 262), (496.5, 248),
    (498, 250), (500, 262), (502, 264), (504, 263.5), (506, 264.5), (508, 265), (510, 264), (512, 266),
    (514, 265.5), (516, 267), (518, 266), (520, 267.5), (522, 267), (524, 268.5), (526, 269), (528, 268),
    (530, 269.5), (532, 270), (534, 271), (536, 272.5), (538, 275), (540, 274), (542, 272.5), (544, 271),
    (546, 270), (548, 271), (550, 270.5), (552, 270), (554.2, 269.5), (554.8, 118), (557, 117.5), (559, 117.5),
    (561, 117.5), (563, 117.5), (565, 118), (566, 124), (567, 130), (568.4, 134), (569.5, 184), (571.5, 185),
    (573.5, 205), (575.5, 237), (577.5, 240), (579.5, 238), (581, 262), (583, 264), (585, 265), (586.5, 265),
    (587.5, 241), (589, 239), (590.5, 263), (592, 265), (593.5, 241), (595, 241), (596.5, 263), (598, 264),
    (599.5, 240), (601, 242), (602.5, 262), (604, 262.5), (605.5, 245), (607, 245), (608.5, 244), (610, 247),
    (611.5, 262), (613, 264.5), (615, 266), (617, 267.5), (619, 267), (621, 268), (623, 267.5), (625, 269),
    (627, 270), (629, 271), (631, 270), (633, 271.5), (635, 273), (637, 272.5), (639, 273), (641, 274.5),
    (643, 273.5), (645, 275), (646.5, 276), (648, 274.5), (650, 273), (652, 271.5), (654, 271), (656, 269.5),
    (658, 270), (660, 269.5), (662, 269), (663.4, 268), (664.1, 118.5), (667.3, 118.5), (670, 118),
    (673, 118.5), (676, 117.5), (679, 118), (682, 117.5), (685, 117), (689, 116.5), (692, 117), (695, 116.5),
    (698, 116), (701, 116.5), (704, 116), (707, 115.5), (710.8, 115.5), (714, 116), (717, 115.5), (720, 115),
    (723, 115.5), (726, 115), (729, 115.5), (732.6, 115), (736, 114.5), (739, 115), (742, 114.5), (745, 115),
    (748, 114.5), (751, 114.5), (754.3, 114.5), (757, 114), (760, 114.5), (763, 114), (766, 114.5), (769, 114),
    (772, 113.5), (776.1, 114), (779, 113.5), (782, 114), (785, 113.5), (787, 113), (790, 113.5), (793, 113.5),
    (795, 113.5), (797.9, 114),
]

# highlighted intervals [s]
span_orange = (35, 122.5)
span_blue = (250, 338)

x_ticks = list(range(0, 841, 120))
left_ticks = list(range(0, 111, 10))
right_ticks = list(range(0, 501, 100))

legend_items = [('framerate', '#f58220'), ('GPU Load', '#c000c0'), ('CPU Load', '#00b0f0'),
                ('GPU Power', '#e00000'), ('PC power', '#2e9463')]
legend_y = [100.5, 91, 82, 73, 64]

GRAY = '#7f7f7f'
AXC = '#a6a6a6'
W, H = 1600, 1300

fig = plt.figure(figsize=(16, 13), dpi=100)
rect = [123.5 / W, 1 - 1212 / H, (1503 - 123.5) / W, (1212 - 53) / H]

# background axes: grid + highlighted spans
axb = fig.add_axes(rect)
axb.set_xlim(0, 840)
axb.set_ylim(0, 110)
axb.axvspan(*span_orange, color='#fde9da', lw=0, zorder=0.1)
axb.axvspan(*span_blue, color='#dce9fa', lw=0, zorder=0.1)
axb.xaxis.set_major_locator(MultipleLocator(120))
axb.xaxis.set_minor_locator(MultipleLocator(15))
axb.yaxis.set_major_locator(MultipleLocator(10))
axb.yaxis.set_minor_locator(MultipleLocator(2))
axb.set_axisbelow(True)
axb.grid(which='major', color='#d9d9d9', lw=1.3)
axb.grid(which='minor', color='#efefef', lw=1.0)
axb.tick_params(which='both', length=0, labelleft=False, labelbottom=False)
for s in axb.spines.values():
    s.set_visible(False)

ax = fig.add_axes(rect)
ax2 = ax.twinx()
axb.set_zorder(0)
ax2.set_zorder(1)
ax.set_zorder(2)
ax.patch.set_visible(False)
ax2.patch.set_visible(False)

shadow = [pe.SimpleLineShadow(offset=(3, -4), shadow_color='k', alpha=0.05, linewidth=7), pe.Normal()]

t, v = zip(*fps_pts)
ax2.plot(t, v, color='#f59c1a', lw=1.9, path_effects=shadow)
t, v = zip(*pc_power_pts)
ax2.plot(t, v, color='#3b8c5f', lw=1.9, path_effects=shadow)
t, v = zip(*cpu_load_pts)
ax.plot(t, v, color='#5fcbea', lw=1.1, path_effects=shadow)
t, v = zip(*gpu_power_pts)
ax.plot(t, v, color='#ff0000', lw=1.7, path_effects=shadow)
t, v = zip(*gpu_load_pts)
ax.plot(t, v, color='#cc00cc', lw=1.6, path_effects=shadow)

ax.set_xlim(0, 840)
ax.set_ylim(0, 110)
ax2.set_ylim(0, 550)

ax.set_xticks(x_ticks)
ax.set_xticklabels([str(x) for x in x_ticks], rotation=90, fontsize=20, color=GRAY)
ax.set_yticks(left_ticks)
ax.set_yticklabels([str(y) for y in left_ticks], fontsize=23, fontweight='bold', color=GRAY)
ax.yaxis.set_minor_locator(MultipleLocator(2))
ax2.set_yticks(right_ticks)
ax2.set_yticklabels([str(y) for y in right_ticks], fontsize=23, fontweight='bold', color=GRAY)
ax2.yaxis.set_minor_locator(MultipleLocator(20))

ax.tick_params(axis='y', which='major', direction='inout', length=16, width=2, color=AXC, pad=18)
ax.tick_params(axis='y', which='minor', direction='out', length=7, width=2, color=AXC)
ax.tick_params(axis='x', which='major', direction='out', length=6, width=2, color=AXC, pad=4)
ax2.tick_params(axis='y', which='major', direction='inout', length=16, width=2, color=AXC, pad=12)
ax2.tick_params(axis='y', which='minor', direction='out', length=7, width=2, color=AXC)

for name, s in ax.spines.items():
    s.set_visible(name in ('left', 'bottom'))
    s.set_color(AXC)
    s.set_linewidth(3)
for name, s in ax2.spines.items():
    s.set_visible(name == 'right')
    s.set_color(AXC)
    s.set_linewidth(3)

# legend on the right, text right aligned
legend_texts = []
for (name, col), y in zip(legend_items, legend_y):
    legend_texts.append(ax.text(0.9816, y, name, transform=ax.get_yaxis_transform(), ha='right', va='center',
                                fontsize=20, fontweight='bold', color=col, zorder=10))

ax.text(0.992, 0, 'čas [s]', transform=ax.transAxes, ha='right', va='center', fontsize=23, color=GRAY,
        bbox=dict(fc='white', ec='none', pad=2), zorder=10)
fig.text(1476.6 / W, 1 - 46 / H, 'Souhrn', ha='right', va='center', fontsize=35, fontweight='bold', color=GRAY)

renderer = fig.canvas.get_renderer()

for txt, (name, col) in zip(legend_texts, legend_items):
    bb = txt.get_window_extent(renderer)
    ym = (bb.y0 + bb.y1) / 2
    fig.add_artist(Line2D([(bb.x0 - 44) / W, (bb.x0 - 11) / W], [ym / H, ym / H], color=col, lw=2.2,
                          transform=fig.transFigure))


def stack_text(pieces, x_px, y_px, size, gap, bg=True, weight='bold', family=None, alpha=1.0):
    for txt, col in pieces:
        kw = dict(rotation=90, ha='center', va='bottom', fontsize=size, fontweight=weight, color=col,
                  zorder=30, alpha=alpha)
        if bg:
            kw['bbox'] = dict(fc='white', ec='none', pad=3)
        if family:
            kw['family'] = family
        t = fig.text(x_px / W, y_px / H, txt, **kw)
        bb = t.get_window_extent(renderer)
        y_px = bb.y1 + gap


stack_text([('GPU Load,', '#c000c0'), ('CPU Load,', '#00b0f0'), ('GPU Power (TDP)', '#fa6400'),
            ('[%]', GRAY)], 117.5, H - 888, 28.5, 10)
stack_text([('Framerate [fps]', '#ffa31a'), (',', GRAY), ('PC power [W]', '#2e9463')], 1502, H - 617, 27, 9)

# pctuning logo
stack_text([('pc', '#ef8a4f'), ('tuning', '#3d7cc4')], 1483, H - 1190, 40, 2, bg=False,
           family='DejaVu Sans', alpha=0.9)
fig.add_artist(Arc((1465 / W, 314 / H), 106 / W, 106 / H, theta1=95, theta2=265, color='#ef8a4f', lw=6,
                   alpha=0.9, transform=fig.transFigure))
fig.add_artist(Line2D([1465 / W, 1442 / W], [314 / H, 330 / H], color='#ef8a4f', lw=3, alpha=0.9,
                      transform=fig.transFigure))

fig.savefig('out.png', dpi=100, facecolor='white')
